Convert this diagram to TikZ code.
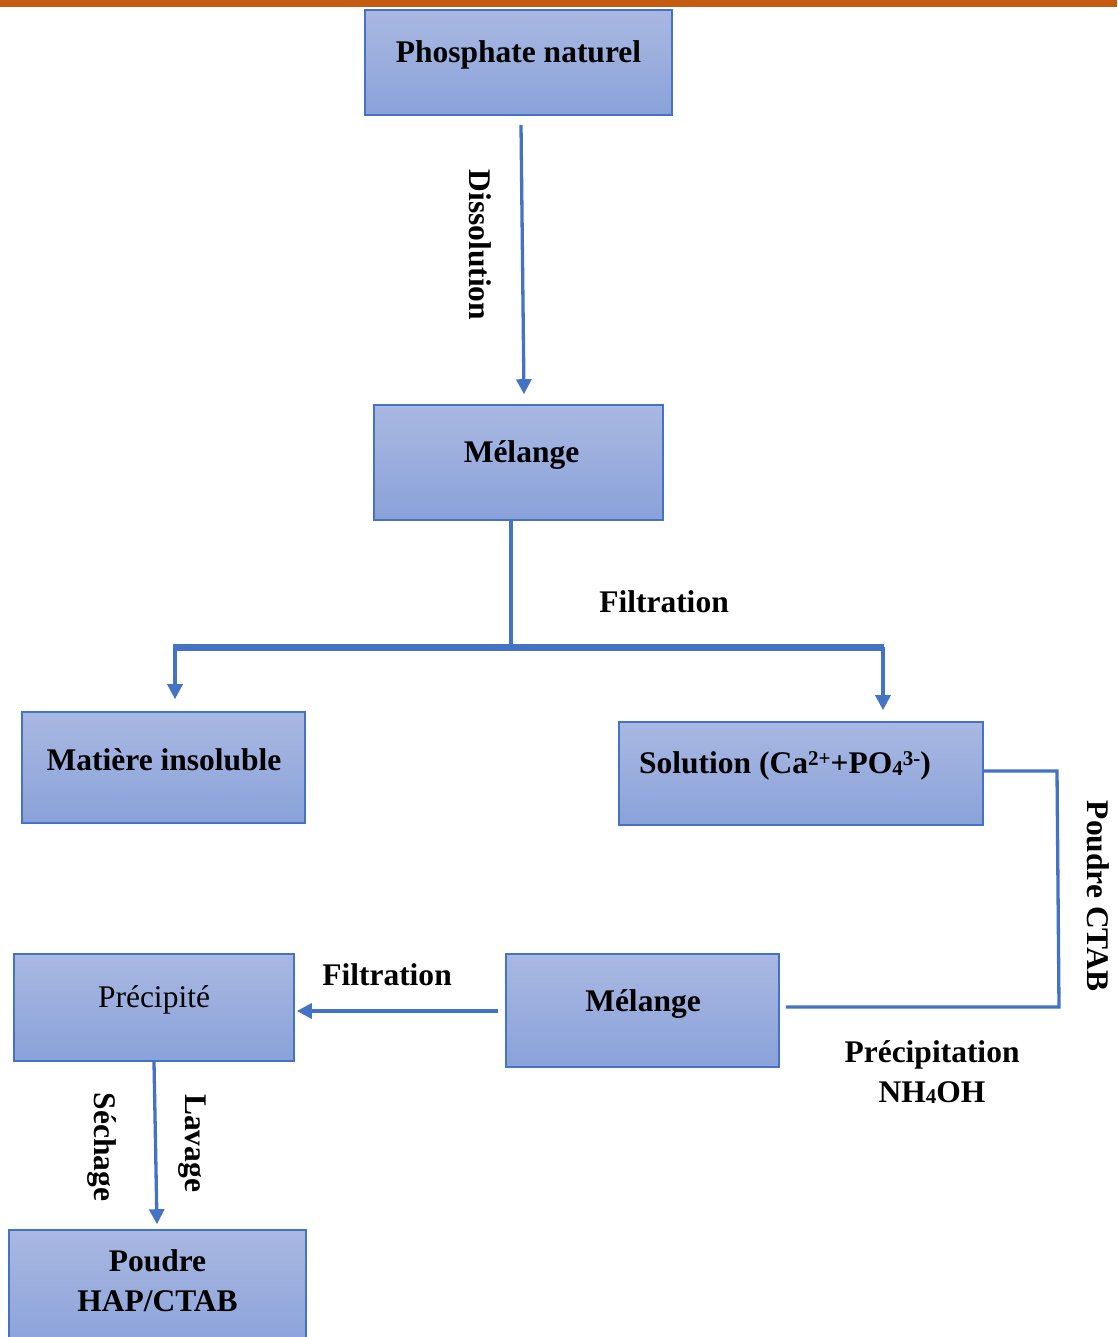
\documentclass[tikz,border=0pt]{standalone}
\usepackage{fontspec}
\setmainfont{Liberation Serif}
\usetikzlibrary{arrows.meta,calc}
\definecolor{lineblue}{HTML}{4472C4}
\definecolor{boxtop}{HTML}{A9B8E1}
\definecolor{boxbot}{HTML}{8AA2DA}
\definecolor{barorange}{HTML}{C55A11}
\tikzset{
  box/.style={draw=lineblue, line width=1.6pt, top color=boxtop, bottom color=boxbot, inner sep=0pt},
  lbl/.style={font=\fontsize{31.5}{40}\selectfont\bfseries, inner sep=0pt, align=center},
  rlbl/.style={font=\fontsize{31.5}{40}\selectfont, inner sep=0pt, align=center},
  conn/.style={draw=lineblue, line width=3.3pt},
  arr/.style={conn, -{Triangle[length=15pt,width=15pt]}},
}
\newcommand{\smsub}[1]{\raisebox{-0.1ex}{\fontsize{21}{21}\selectfont #1}}
\newcommand{\smsup}[1]{\raisebox{0.55ex}{\fontsize{21}{21}\selectfont #1}}
\begin{document}
\begin{tikzpicture}[x=1pt,y=-1pt]
\useasboundingbox (0,0) rectangle (1117,1337);
\fill[barorange] (0,0) rectangle (1117,7);

% boxes
\node[box, minimum width=307pt, minimum height=105pt] (phos) at (518.5,62.5) {};
\node[box, minimum width=289pt, minimum height=115pt] (mel1) at (518.5,462.5) {};
\node[box, minimum width=283pt, minimum height=111pt] (mat) at (163.5,767.5) {};
\node[box, minimum width=364pt, minimum height=103pt] (sol) at (801,773.5) {};
\node[box, minimum width=280pt, minimum height=107pt] (prec) at (154,1007.5) {};
\node[box, minimum width=273pt, minimum height=113pt] (mel2) at (642.5,1010.5) {};
\node[box, minimum width=297pt, minimum height=120pt] (poud) at (157.5,1290) {};

% box texts
\node[lbl] (tphos) at (518.5,55) {Phosphate naturel};
\node[lbl] (tmel1) at (521.5,455) {Mélange};
\node[lbl] (tmat) at (164,760) {Matière insoluble};
\node[lbl, anchor=west] (tsol) at (639,766) {Solution (Ca\smsup{2+}+PO\smsub{4}\smsup{3-})};
\node[rlbl] (tprec) at (154,1000) {Précipité};
\node[lbl] (tmel2) at (643,1004) {Mélange};
\node[lbl] (tpoud) at (157.5,1281) {Poudre\\HAP/CTAB};

% connectors
\coordinate (jl) at (173,647);
\coordinate (jr) at (884,647);
\coordinate (jm) at ($(mel1.south)+(-7.5,0)$);
\coordinate (c1) at (1057,771);
\coordinate (c2) at (1059,1007);

\draw[arr] ($(phos.south)+(2.5,9)$) -- ($(mel1.north)+(5.5,-10)$);
\draw[conn] (jm) -- (jm |- jl);
\draw[draw=lineblue, line width=7pt] (jl) -- (jr);
\draw[arr] ($(jl)+(2,0)$) -- ($(mat.north)+(11.5,-12)$);
\draw[arr] ($(jr)+(-1,0)$) -- ($(sol.north)+(82,-11)$);
\draw[conn, line join=miter] (sol.east |- c1) -- (c1) -- (c2) -- ($(mel2.east |- c2)+(6,0)$);
\draw[arr] ($(mel2.west)+(-7,0.5)$) -- ($(prec.east)+(2,3.5)$);
\draw[arr] (prec.south) -- ($(poud.north)+(-0.5,-5)$);

% edge labels
\node[lbl, rotate=-90] (ldiss) at (480,245) {Dissolution};
\node[lbl] (lfilt1) at (664,602) {Filtration};
\node[lbl, rotate=-90] (lctab) at (1098,896) {Poudre CTAB};
\node[lbl] (lprecip) at (932,1072) {Précipitation\\NH\smsub{4}OH};
\node[lbl] (lfilt2) at (387,975) {Filtration};
\node[lbl, rotate=-90] (lsech) at (102,1147) {Séchage};
\node[lbl, rotate=-90] (llav) at (192,1143) {Lavage};
\end{tikzpicture}
\end{document}
